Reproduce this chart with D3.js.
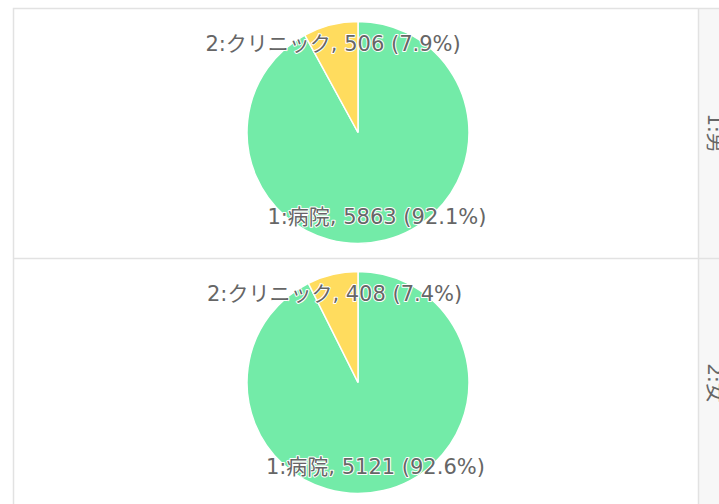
<!DOCTYPE html>
<html>
<head>
<meta charset="utf-8">
<script src="https://cdn.jsdelivr.net/npm/d3@7"></script>
<style>
  html, body { margin: 0; padding: 0; background: #fff; }
  svg { display: block; }
</style>
</head>
<body>
<svg id="chart" width="719" height="504"></svg>
<script>
// Facet rows (strip labels) and pie categories
const rowLabels = ["1:男", "2:女"];
const categories = ["1:病院", "2:クリニック"];
// Counts per facet row, in category order
const row1Values = [5863, 506];
const row2Values = [5121, 408];
const rowValues = [row1Values, row2Values];

const W = 719, H = 504;
const panelLeft = 13, panelTop = 8, panelRight = 698, stripWidth = 40;
const rowHeight = 250;
const radius = 111;
const fontFamily = "'DejaVu Sans', 'Noto Sans CJK JP', sans-serif";

const svg = d3.select("#chart");

const color = d3.scaleOrdinal().domain(categories).range(["#73eba8", "#ffdc5e"]);

// Panel frame and strip background
svg.append("rect")
  .attr("x", panelRight).attr("y", panelTop)
  .attr("width", stripWidth).attr("height", rowHeight * rowLabels.length)
  .attr("fill", "#f7f7f7");

const borderColor = "#e2e2e2";
svg.append("rect")
  .attr("x", panelLeft + 0.5).attr("y", panelTop + 0.5)
  .attr("width", panelRight + stripWidth - panelLeft).attr("height", rowHeight * rowLabels.length)
  .attr("fill", "none").attr("stroke", borderColor).attr("stroke-width", 1.5);
svg.append("line")
  .attr("x1", panelRight + 0.5).attr("x2", panelRight + 0.5)
  .attr("y1", panelTop).attr("y2", panelTop + rowHeight * rowLabels.length)
  .attr("stroke", borderColor).attr("stroke-width", 1.5);

const pie = d3.pie().sort(null).value(d => d.value);
const arc = d3.arc().innerRadius(0).outerRadius(radius);
const labelArc = d3.arc().innerRadius(radius * 0.8).outerRadius(radius * 0.8);

rowLabels.forEach((rowLabel, i) => {
  const y0 = panelTop + rowHeight * i;
  if (i > 0) {
    svg.append("line")
      .attr("x1", panelLeft).attr("x2", W)
      .attr("y1", y0 + 0.5).attr("y2", y0 + 0.5)
      .attr("stroke", borderColor).attr("stroke-width", 1.5);
  }

  // Rotated strip label
  svg.append("text")
    .attr("transform", `translate(${panelRight + 10},${y0 + rowHeight / 2}) rotate(90)`)
    .attr("text-anchor", "middle")
    .attr("font-family", fontFamily)
    .attr("font-size", 20)
    .attr("fill", "#666")
    .text(rowLabel);

  const data = categories.map((c, k) => ({ cat: c, value: rowValues[i][k] }));
  const total = d3.sum(data, d => d.value);
  const arcs = pie(data);

  const g = svg.append("g")
    .attr("transform", `translate(358,${y0 + 124.5})`);

  g.selectAll("path")
    .data(arcs)
    .join("path")
    .attr("d", arc)
    .attr("fill", d => color(d.data.cat))
    .attr("stroke", "#fff")
    .attr("stroke-width", 1.5);

  g.selectAll("text")
    .data(arcs)
    .join("text")
    .attr("transform", d => {
      const [cx, cy] = labelArc.centroid(d);
      return `translate(${cx - 3},${cy - 2})`;
    })
    .attr("text-anchor", "middle")
    .attr("dominant-baseline", "central")
    .attr("font-family", fontFamily)
    .attr("font-size", 21)
    .attr("fill", "#666")
    .attr("stroke", "#fff")
    .attr("stroke-width", 2)
    .attr("paint-order", "stroke")
    .attr("stroke-linejoin", "round")
    .text(d => `${d.data.cat}, ${d.data.value} (${(d.data.value / total * 100).toFixed(1)}%)`);
});
</script>
</body>
</html>
